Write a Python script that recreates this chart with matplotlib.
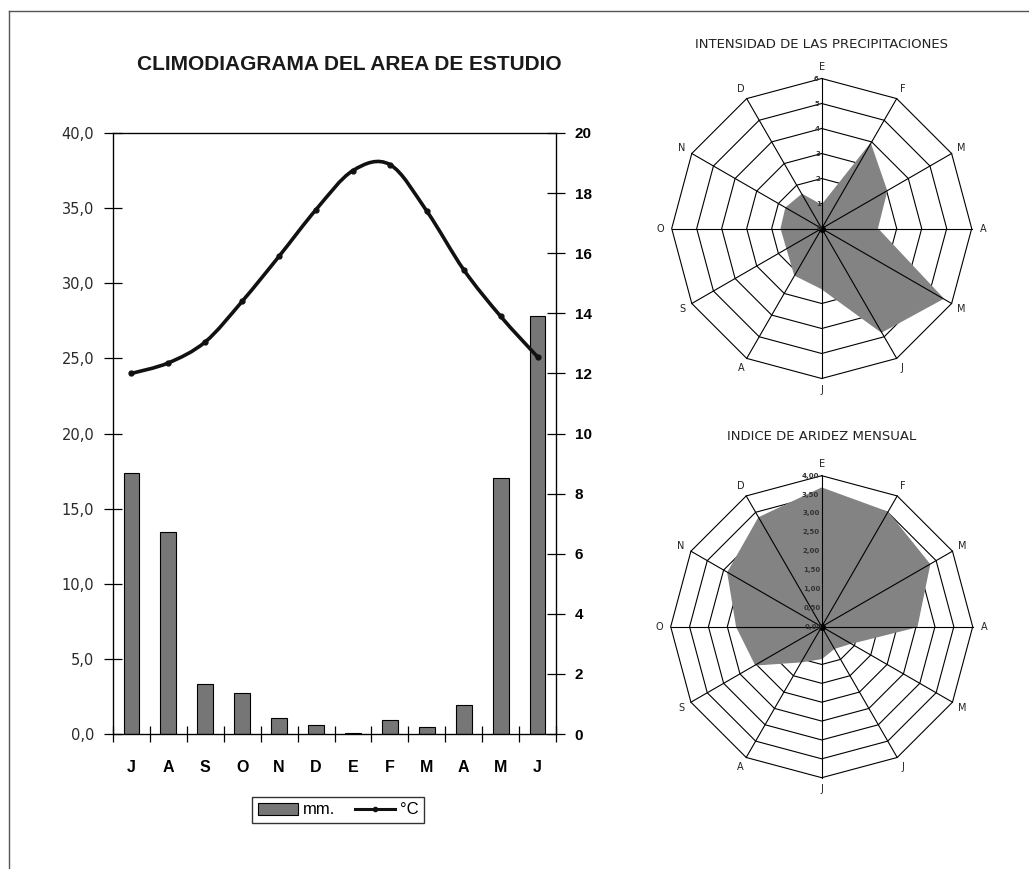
import numpy as np
import matplotlib
matplotlib.use('Agg')
import matplotlib.pyplot as plt
from matplotlib.path import Path
from matplotlib.patches import PathPatch, Patch
from matplotlib.lines import Line2D

# climodiagrama (julio -> junio)
meses = ['J', 'A', 'S', 'O', 'N', 'D', 'E', 'F', 'M', 'A', 'M', 'J']
precip_mm = [17.4, 13.45, 3.3, 2.75, 1.05, 0.6, 0.07, 0.95, 0.45, 1.95, 17.05, 27.8]
temp_c = [12.0, 12.35, 13.05, 14.4, 15.9, 17.45, 18.75, 18.95, 17.4, 15.45, 13.9, 12.55]

left_ticks = [0, 5, 10, 15, 20, 25, 30, 35, 40]
left_labels = ['0,0', '5,0', '10,0', '15,0', '20,0', '25,0', '30,0', '35,0', '40,0']
right_ticks = [0, 2, 4, 6, 8, 10, 12, 14, 16, 18, 20]

# radares (enero -> diciembre, sentido horario desde arriba)
meses_radar = ['E', 'F', 'M', 'A', 'M', 'J', 'J', 'A', 'S', 'O', 'N', 'D']
intensidad = [0.92, 3.9, 3.0, 2.22, 5.6, 4.78, 2.4, 2.15, 1.6, 1.62, 1.65, 1.57]
intens_rings = [0, 1, 2, 3, 4, 5, 6]
intens_labels = ['0', '1', '2', '3', '4', '5', '6']

aridez = [3.67, 3.5, 3.3, 2.52, 0.88, 0.66, 0.84, 1.07, 2.02, 2.25, 2.87, 3.33]
aridez_rings = [0, 0.5, 1, 1.5, 2, 2.5, 3, 3.5, 4]
aridez_labels = ['0,00', '0,50', '1,00', '1,50', '2,00', '2,50', '3,00', '3,50', '4,00']

W, H = 1029, 869
fig = plt.figure(figsize=(W / 100, H / 100), dpi=100)


def fx(px):
    return px / W


def fy(py):
    return 1 - py / H


# marco de la pagina
fig.add_artist(Line2D([fx(9), 1], [fy(11), fy(11)], color='#555555', lw=1))
fig.add_artist(Line2D([fx(9), fx(9)], [0, fy(11)], color='#555555', lw=1))

# ---- climodiagrama ----
ax = fig.add_axes([fx(113), fy(734), fx(556) - fx(113), fy(133) - fy(734)])
x = np.arange(len(meses))
ax.bar(x, precip_mm, width=0.43, color='#767676', edgecolor='black', linewidth=0.8, zorder=2)
ax.set_xlim(-0.5, 11.5)
ax.set_ylim(0, 40)
ax.set_yticks(left_ticks)
ax.set_yticklabels(left_labels, fontsize=10.5, family='DejaVu Sans', color='#2a2a2a')
ax.tick_params(axis='y', direction='inout', length=13, width=0.9, pad=7)
ax.set_xticks(x)
ax.set_xticklabels(meses, fontsize=11.5, fontweight='bold', family='Liberation Sans')
ax.set_xticks(np.arange(-0.5, 12, 1), minor=True)
ax.tick_params(axis='x', which='major', length=0, pad=19)
ax.tick_params(axis='x', which='minor', direction='inout', length=12, width=0.9)
for s in ax.spines.values():
    s.set_linewidth(0.9)

ax2 = ax.twinx()
ax2.set_ylim(0, 20)
ax2.set_yticks(right_ticks)
ax2.set_yticklabels([str(t) for t in right_ticks], fontsize=11, fontweight='bold', family='Liberation Sans')
ax2.tick_params(axis='y', direction='inout', length=13, width=0.9, pad=7)

# linea suavizada de temperatura (bezier tipo catmull-rom, como Excel)
pts = np.column_stack([x, temp_c])
ext = np.vstack([pts[0], pts, pts[-1]])
verts = [tuple(pts[0])]
codes = [Path.MOVETO]
for i in range(len(pts) - 1):
    p0, p1, p2, p3 = ext[i], ext[i + 1], ext[i + 2], ext[i + 3]
    verts += [tuple(p1 + (p2 - p0) / 6), tuple(p2 - (p3 - p1) / 6), tuple(p2)]
    codes += [Path.CURVE4] * 3
ax2.add_patch(PathPatch(Path(verts, codes), fill=False, edgecolor='#111111', lw=2.6, zorder=3))
ax2.plot(x, temp_c, 'o', color='#111111', markersize=3.5, zorder=4)

fig.text(fx(349), fy(64), 'CLIMODIAGRAMA DEL AREA DE ESTUDIO', ha='center', va='center',
         fontsize=15, fontweight='bold', family='Liberation Sans', color='#1a1a1a')

handles = [Patch(facecolor='#767676', edgecolor='black', linewidth=0.8),
           Line2D([], [], color='#111111', lw=2.2, marker='o', markersize=3)]
fig.legend(handles, ['mm.', '°C'], loc='center', bbox_to_anchor=(fx(338), fy(810)), ncol=2,
           fancybox=False, edgecolor='#333333', framealpha=1,
           prop={'family': 'Liberation Sans', 'size': 12}, handlelength=2.4, handletextpad=0.3,
           columnspacing=1.2, borderpad=0.35)


# ---- radares ----
def radar(cx, cy, r, values, rings, ring_labels, title, title_y):
    rect = [fx(cx - r), fy(cy + r), fx(cx + r) - fx(cx - r), fy(cy - r) - fy(cy + r)]
    rax = fig.add_axes(rect, projection='polar')
    rax.set_theta_zero_location('N')
    rax.set_theta_direction(-1)
    rmax = rings[-1]
    rax.set_ylim(0, rmax)
    rax.set_axis_off()
    th = np.linspace(0, 2 * np.pi, 13)
    vals = list(values) + [values[0]]
    for rv in rings[1:]:
        rax.plot(th, [rv] * 13, color='black', lw=0.8, zorder=2, clip_on=False)
    rax.fill(th, vals, color='#838383', zorder=3, clip_on=False)
    for t in th[:-1]:
        rax.plot([t, t], [0, rmax], color='black', lw=0.8, zorder=4, clip_on=False)
    rax.plot([0], [0], 'o', color='black', markersize=4, zorder=5)
    for t, lab in zip(th[:-1], meses_radar):
        rax.text(t, rmax * 1.075, lab, ha='center', va='center', fontsize=7,
                 family='DejaVu Sans', color='#222222', clip_on=False)
    for rv, lab in zip(rings, ring_labels):
        rax.text(-0.02, rv, lab, ha='right', va='center', fontsize=5, fontweight='bold',
                 family='DejaVu Sans', color='#333333', clip_on=False, zorder=6)
    fig.text(fx(cx), fy(title_y), title, ha='center', va='center', fontsize=9.5,
             family='DejaVu Sans', color='#222222')


radar(821.7, 228.5, 150, intensidad, intens_rings, intens_labels,
      'INTENSIDAD DE LAS PRECIPITACIONES', 44)
radar(821.7, 626.7, 151, aridez, aridez_rings, aridez_labels,
      'INDICE DE ARIDEZ MENSUAL', 436)

fig.savefig('out.png', dpi=100)
